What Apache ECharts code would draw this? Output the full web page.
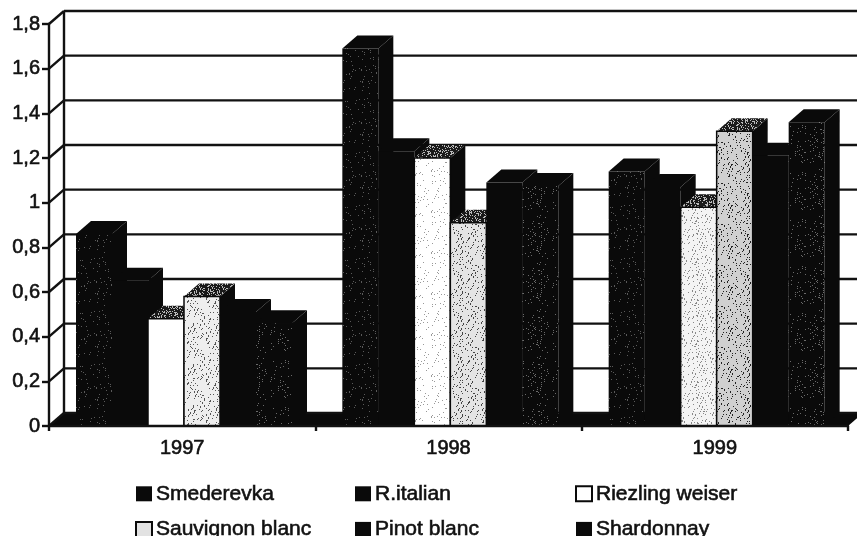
<!DOCTYPE html>
<html><head><meta charset="utf-8">
<style>html,body{margin:0;padding:0;background:#fff}#c{width:857px;height:536px}</style>
<script src="https://cdn.jsdelivr.net/npm/echarts@6/dist/echarts.min.js"></script>
</head><body><div id="c"></div>
<script>
const categories = ['1997','1998','1999'];
const smederevka = [0.86,1.69,1.14];
const rItalian = [0.65,1.23,1.07];
const rieslingWeiser = [0.48,1.20,0.98];
const sauvignonBlanc = [0.58,0.91,1.32];
const pinotBlanc = [0.51,1.09,1.21];
const shardonnay = [0.46,1.075,1.36];
const yTicks = [0,0.2,0.4,0.6,0.8,1,1.2,1.4,1.6,1.8];
const seriesNames = ['Smederevka','R.italian','Riezling weiser','Sauvignon blanc','Pinot blanc','Shardonnay'];
const seriesValues = [smederevka,rItalian,rieslingWeiser,sauvignonBlanc,pinotBlanc,shardonnay];

const DX=15, DY=-13, BAR_W=36, START=27;
function tex(bg,fg,step,size,seed){
  const c=document.createElement('canvas');c.width=c.height=size;const g=c.getContext('2d');
  g.fillStyle=bg;g.fillRect(0,0,size,size);g.fillStyle=fg;
  let k=seed||7;
  for(let i=0;i<size*size/step;i++){k=(k*73+41)%1009;const x=k%size;k=(k*73+41)%1009;const y=k%size;g.fillRect(x,y,1,1);}
  return {image:c,repeat:'repeat'};
}
const darkSpeck=tex('#0a0a0a','#5a5a5a',28,53,7), darkSpeck2=tex('#0a0a0a','#6a6a6a',22,47,11);
const fronts=[
  [darkSpeck,darkSpeck,darkSpeck],
  ['#0a0a0a','#0a0a0a','#0a0a0a'],
  ['#ffffff',tex('#ffffff','#999',20,41,5),tex('#f4f4f4','#888',8,41,3)],
  [tex('#eeeeee','#555',5,41,9),tex('#e4e4e4','#444',4,41,13),tex('#d0d0d0','#222',2.4,41,17)],
  ['#0a0a0a','#0a0a0a','#0a0a0a'],
  [darkSpeck2,darkSpeck2,darkSpeck2]
];
const tops=['#0a0a0a','#0a0a0a',tex('#1a1a1a','#bbb',3,23,3),tex('#1a1a1a','#bbb',3,23,5),'#0a0a0a','#0a0a0a'];
const legendColors=['#0a0a0a','#0a0a0a','#ffffff','#e2e2e2','#0a0a0a','#0a0a0a'];

function barSeries(idx){
  return {type:'custom',name:seriesNames[idx],coordinateSystem:'cartesian2d',z:5+idx,
    itemStyle:{color:legendColors[idx]},
    encode:{x:0,y:1},
    data:seriesValues[idx].map((v,i)=>[categories[i],v]),
    renderItem(params,api){
      const i=params.dataIndex;
      const p0=api.coord([i,0]),pv=api.coord([i,api.value(1)]);
      const w=api.size([1,0])[0];
      const left=p0[0]-w/2+START+idx*BAR_W, r=left+BAR_W, t=pv[1], b=p0[1];
      const fill=fronts[idx][i];
      return {type:'group',children:[
        {type:'polygon',shape:{points:[[left,t],[left+DX,t+DY],[r+DX,t+DY],[r,t]]},style:{fill:tops[idx]}},
        {type:'polygon',shape:{points:[[r,t],[r+DX,t+DY],[r+DX,b+DY],[r,b]]},style:{fill:'#0a0a0a'}},
        {type:'rect',shape:{x:left,y:t,width:BAR_W,height:b-t},style:{fill:fill,stroke:'#0a0a0a',lineWidth:idx==2||idx==3?1.5:0}}
      ]};
    }};
}
const wall={type:'custom',silent:true,z:2,data:yTicks.map(v=>[0,v]),encode:{x:0,y:1},
  renderItem(params,api){
    const v=api.value(1);
    const a=api.coord([0,v]);
    const x0=params.coordSys.x, x1=x0+params.coordSys.width;
    const ls={stroke:'#111',lineWidth:2.4};
    const kids=[
      {type:'line',shape:{x1:x0,y1:a[1],x2:x0+DX,y2:a[1]+DY},style:ls},
      {type:'line',shape:{x1:x0+DX,y1:a[1]+DY,x2:x1+DX,y2:a[1]+DY},style:ls}
    ];
    if(v===0){
      kids.unshift({type:'polygon',shape:{points:[[x0,a[1]],[x0+DX,a[1]+DY],[x1+DX,a[1]+DY],[x1,a[1]]]},style:{fill:'#0a0a0a'}});
      const top=api.coord([0,yTicks[yTicks.length-1]])[1];
      kids.push({type:'line',shape:{x1:x0+DX,y1:a[1]+DY,x2:x0+DX,y2:top+DY},style:ls});
    }
    return {type:'group',children:kids};
  }};
const font='"Liberation Sans",Arial,sans-serif';
const bold={textBorderColor:'#111',textBorderWidth:0.6};
const legendBase={orient:'vertical',height:70,itemWidth:16,itemHeight:15,itemGap:14,icon:'rect',
  textStyle:Object.assign({fontFamily:font,fontSize:21,lineHeight:20,color:'#111',padding:[0,0,0,-1]},bold),selectedMode:false};
function legendItem(i){return {name:seriesNames[i],itemStyle:{color:legendColors[i],borderColor:'#0a0a0a',borderWidth:i==2||i==3?2:0}};}
const chart=echarts.init(document.getElementById('c'),null,{renderer:'canvas'});
chart.setOption({animation:false,backgroundColor:'#fff',
  grid:{left:49,top:24,width:799,height:402,containLabel:false},
  xAxis:{type:'category',data:categories,boundaryGap:true,
    axisLine:{lineStyle:{color:'#111',width:2.4}},
    axisTick:{show:true,length:5,lineStyle:{color:'#111',width:2.4},alignWithLabel:false},
    axisLabel:Object.assign({fontFamily:font,fontSize:20,color:'#111',margin:12},bold),z:20},
  yAxis:{type:'value',min:0,max:1.8,interval:0.2,
    splitLine:{show:false},
    axisLine:{show:true,lineStyle:{color:'#111',width:2.4}},
    axisTick:{show:true,length:7,lineStyle:{color:'#111',width:2.4}},
    axisLabel:Object.assign({fontFamily:font,fontSize:20,color:'#111',margin:9,
      formatter:v=>String(Math.round(v*10)/10).replace('.',',')},bold),z:20},
  legend:[
    Object.assign({},legendBase,{left:130,top:478,data:[legendItem(0),legendItem(3)]}),
    Object.assign({},legendBase,{left:350,top:478,data:[legendItem(1),legendItem(4)]}),
    Object.assign({},legendBase,{left:570,top:478,data:[legendItem(2),legendItem(5)]})
  ],
  series:[wall].concat(seriesNames.map((n,i)=>barSeries(i)))
});
</script></body></html>
